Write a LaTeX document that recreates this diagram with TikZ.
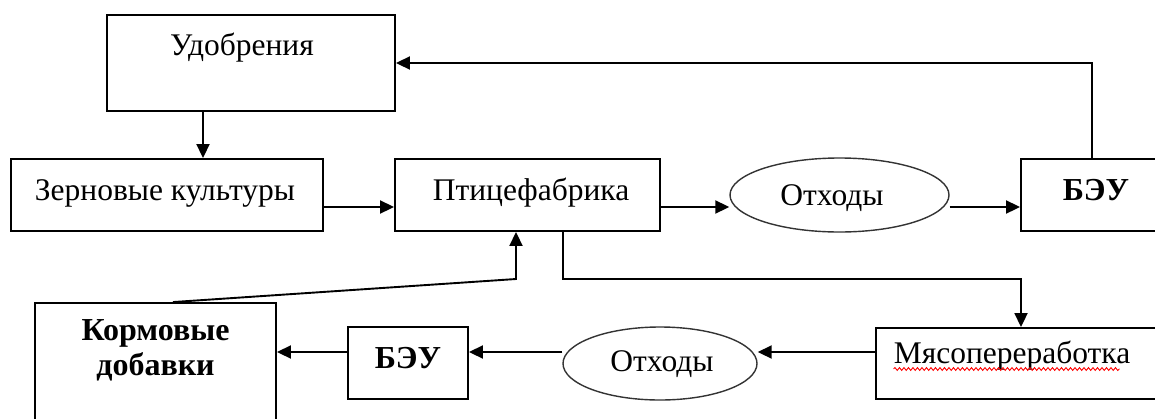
\documentclass[tikz,border=0pt]{standalone}
\usepackage{fontspec}
\setmainfont{Liberation Serif}
\usetikzlibrary{arrows.meta,shapes.geometric,decorations.pathmorphing}
\begin{document}
\begin{tikzpicture}[x=1pt,y=-1pt,
  box/.style={draw=black,line width=1.9pt,rectangle,inner sep=0pt},
  oval/.style={draw=black!80,line width=1.4pt,ellipse,inner sep=0pt},
  txt/.style={anchor=base,inner sep=0pt,font=\fontsize{31.5}{36}\selectfont},
  btxt/.style={txt,font=\fontsize{32}{36}\selectfont\bfseries},
  arr/.style={draw=black,line width=1.9pt,-{Triangle[length=14pt,width=13pt]}},
  lin/.style={draw=black,line width=1.9pt}]
\useasboundingbox (0,0) rectangle (1155,418);
\clip (0,0) rectangle (1155,418);
\fill[white] (0,0) rectangle (1155,418);
% boxes
\node[box,minimum width=288pt,minimum height=96pt] (udo) at (251,63) {};
\node[box,minimum width=312pt,minimum height=72pt] (zer) at (167,195) {};
\node[box,minimum width=265pt,minimum height=72pt] (pti) at (527.5,195) {};
\node[oval,minimum width=219pt,minimum height=74pt] (oth1) at (839.5,195) {};
\node[box,minimum width=149pt,minimum height=72pt] (beu1) at (1095.5,195) {};
\node[box,minimum width=241pt,minimum height=137pt] (kor) at (155.5,371.5) {};
\node[box,minimum width=120pt,minimum height=72pt] (beu2) at (408,363) {};
\node[oval,minimum width=194pt,minimum height=73pt] (oth2) at (660,363.5) {};
\node[box,minimum width=294pt,minimum height=71pt] (mya) at (1023,363.5) {};
% texts
\node[txt] (tudo) at (242,55) {Удобрения};
\node[txt] (tzer) at (165,200) {Зерновые культуры};
\node[txt] (tpti) at (531,200) {Птицефабрика};
\node[txt] (toth1) at (832,205) {Отходы};
\node[btxt] (tbeu1) at (1096,200) {БЭУ};
\node[btxt] (tkor1) at (155.5,340) {Кормовые};
\node[btxt] (tkor2) at (155.5,375) {добавки};
\node[btxt] (tbeu2) at (408,368) {БЭУ};
\node[txt] (toth2) at (662,371) {Отходы};
\node[txt] (tmya) at (1012,363) {Мясопереработка};
\draw[red,line width=0.9pt,decorate,decoration={snake,amplitude=1.4pt,segment length=4.5pt}]
  (tmya.base west) ++(0,6) -- ++(226,0);
% helper coordinates
\coordinate (c1) at (203,0);
\coordinate (r1) at (0,207);
\coordinate (c2) at (1092,0);
\coordinate (c3) at (563,0);
\coordinate (c4) at (1021,279);
\coordinate (c5) at (173,0);
\coordinate (c6) at (516,279);
\coordinate (r2) at (0,352);
% connectors
\draw[arr] (udo.south -| c1) -- (zer.north -| c1);
\draw[arr] (zer.east |- r1) -- (pti.west |- r1);
\draw[arr] (pti.east |- r1) -- (oth1.west |- r1);
\draw[arr] (oth1.east |- r1) -- (beu1.west |- r1);
\draw[arr] (beu1.north -| c2) |- (udo.east);
\draw[arr] (pti.south -| c3) |- (c4) -- (mya.north -| c4);
\draw[arr] (kor.north -| c5) -- (c6) -- (pti.south -| c6);
\draw[arr] (mya.west |- r2) -- (oth2.east |- r2);
\draw[arr] (oth2.west |- r2) -- (beu2.east |- r2);
\draw[arr] (beu2.west |- r2) -- (kor.east |- r2);
\end{tikzpicture}
\end{document}
